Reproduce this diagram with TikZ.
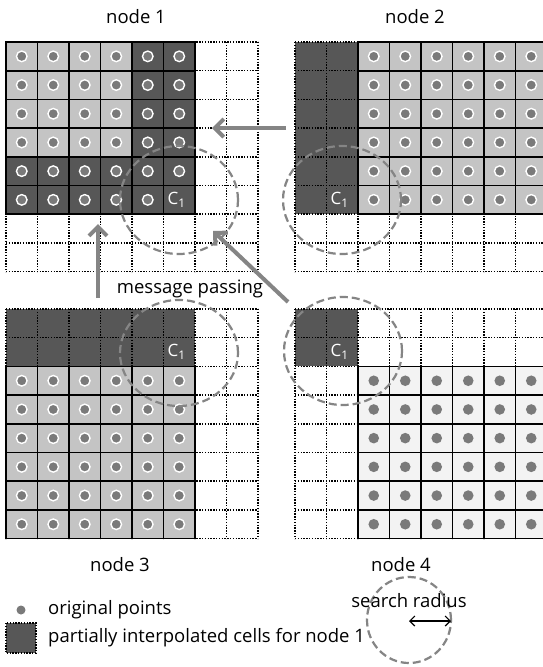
\documentclass[tikz,border=0pt]{standalone}
\usepackage{fontspec}
\setmainfont{Open Sans}
\usetikzlibrary{arrows.meta}
\definecolor{darkc}{HTML}{575757}
\definecolor{lightc}{HTML}{C4C4C4}
\definecolor{palec}{HTML}{F3F3F3}
\definecolor{dotc}{HTML}{7A7A7A}
\definecolor{arrowc}{HTML}{858585}
\def\cw{31.5}
\def\ch{28.7}
\newcommand\dotlines{%
  \foreach \i in {0,...,8} \draw[dotgrid] (\i*\cw,0) -- (\i*\cw,8*\ch);
  \foreach \j in {0,...,8} \draw[dotgrid] (0,\j*\ch) -- (8*\cw,\j*\ch);}
\newcommand\sgrid[4]{%
  \foreach \i in {#1,...,#2} \draw[solidgrid] (\i*\cw,#3*\ch) -- (\i*\cw,#4*\ch);
  \foreach \j in {#3,...,#4} \draw[solidgrid] (#1*\cw,\j*\ch) -- (#2*\cw,\j*\ch);}
\newcommand\ptcells[5]{%
  \foreach \i in {#1,...,#2} \foreach \j in {#3,...,#4}
    \filldraw[#5] ({(\i+0.5)*\cw},{(\j+0.5)*\ch}) circle[radius=5.3pt];}
\tikzset{
  dotgrid/.style={line width=1.5pt, dash pattern=on 1.4pt off 1.4pt},
  solidgrid/.style={line width=1.6pt, line cap=rect},
  ptring/.style={fill=dotc, draw=white, line width=1.4pt},
  ptplain/.style={fill=dotc, draw=none},
  searchr/.style={draw=arrowc, line width=2.2pt, dash pattern=on 8pt off 4pt},
  msg/.style={draw=arrowc, line width=4pt, -{Straight Barb[length=9pt,width=18pt]}},
  lbl/.style={font=\fontsize{18.5}{21}\selectfont, inner sep=0pt},
  clab/.style={text=white, font=\fontsize{17}{19}\selectfont, inner sep=0pt, anchor=west}
}
\begin{document}
\begin{tikzpicture}[x=1pt,y=-1pt]
\useasboundingbox (0,0) rectangle (543,667);
\fill[white] (0,0) rectangle (543,667);
\begin{scope}
\clip (0,0) rectangle (543,667);
% ---------- node 1 ----------
\begin{scope}[shift={(6,42)}]
  \fill[lightc] (0,0) rectangle (4*\cw,4*\ch);
  \fill[darkc] (4*\cw,0) rectangle (6*\cw,4*\ch);
  \fill[darkc] (0,4*\ch) rectangle (6*\cw,6*\ch);
  \dotlines
  \sgrid{0}{6}{0}{6}
  \ptcells{0}{5}{0}{4}{ptring}
  \ptcells{0}{4}{5}{5}{ptring}
  \node[clab] (c1a) at (5*\cw+4,5.5*\ch) {C\textsubscript{1}};
\end{scope}
% ---------- node 2 ----------
\begin{scope}[shift={(295,42)}]
  \fill[darkc] (0,0) rectangle (2*\cw,6*\ch);
  \fill[lightc] (2*\cw,0) rectangle (8*\cw,6*\ch);
  \dotlines
  \sgrid{2}{8}{0}{6}
  \ptcells{2}{7}{0}{5}{ptring}
  \node[clab] (c1b) at (1*\cw+4,5.5*\ch) {C\textsubscript{1}};
\end{scope}
% ---------- node 3 ----------
\begin{scope}[shift={(6,309)}]
  \fill[darkc] (0,0) rectangle (6*\cw,2*\ch);
  \fill[lightc] (0,2*\ch) rectangle (6*\cw,8*\ch);
  \dotlines
  \sgrid{0}{6}{2}{8}
  \ptcells{0}{5}{2}{7}{ptring}
  \node[clab] (c1c) at (5*\cw+4,1.5*\ch) {C\textsubscript{1}};
\end{scope}
% ---------- node 4 ----------
\begin{scope}[shift={(295,309)}]
  \fill[darkc] (0,0) rectangle (2*\cw,2*\ch);
  \fill[palec] (2*\cw,2*\ch) rectangle (8*\cw,8*\ch);
  \dotlines
  \sgrid{2}{8}{2}{8}
  \ptcells{2}{7}{2}{7}{ptplain}
  \node[clab] (c1d) at (1*\cw+4,1.5*\ch) {C\textsubscript{1}};
\end{scope}
\end{scope}
% ---------- search radius circles ----------
\draw[searchr] (179,200) ellipse[x radius=59pt, y radius=54pt];
\draw[searchr] (342,200) ellipse[x radius=59pt, y radius=54pt];
\draw[searchr] (179,353) ellipse[x radius=59pt, y radius=53pt];
\draw[searchr] (343,351) ellipse[x radius=59pt, y radius=54pt];
% ---------- message passing arrows ----------
\coordinate (m1s) at (286,128);
\coordinate (m1e) at (212,128);
\coordinate (m2s) at (98,298);
\coordinate (m2e) at (98,224);
\coordinate (m3s) at (288,302);
\coordinate (m3e) at (213,231);
\draw[msg] (m1s) -- (m1e);
\draw[msg] (m2s) -- (m2e);
\draw[msg] (m3s) -- (m3e);
\node[lbl] (msgl) at (190,289) {message passing};
% ---------- labels ----------
\node[lbl] (n1) at (136,17) {node 1};
\node[lbl] (n2) at (415,17) {node 2};
\node[lbl] (n3) at (120,565) {node 3};
\node[lbl] (n4) at (401,565) {node 4};
% ---------- legend ----------
\fill[dotc] (21,610) circle[radius=4.5pt];
\node[lbl, anchor=west] (lp) at (48,610) {original points};
\filldraw[fill=darkc, draw=black, dotgrid] (6,623) rectangle (36,653);
\node[lbl, anchor=west] (lc) at (48,638) {partially interpolated cells for node 1};
\draw[searchr] (409,620) ellipse[x radius=42pt, y radius=43pt];
\coordinate (ra) at (409,621);
\coordinate (rb) at (451,621);
\draw[line width=1.2pt, {Straight Barb[length=5pt,width=10pt]}-{Straight Barb[length=5pt,width=10pt]}] (ra) -- (rb);
\node[lbl] (sr) at (409,601) {search radius};
\end{tikzpicture}
\end{document}
